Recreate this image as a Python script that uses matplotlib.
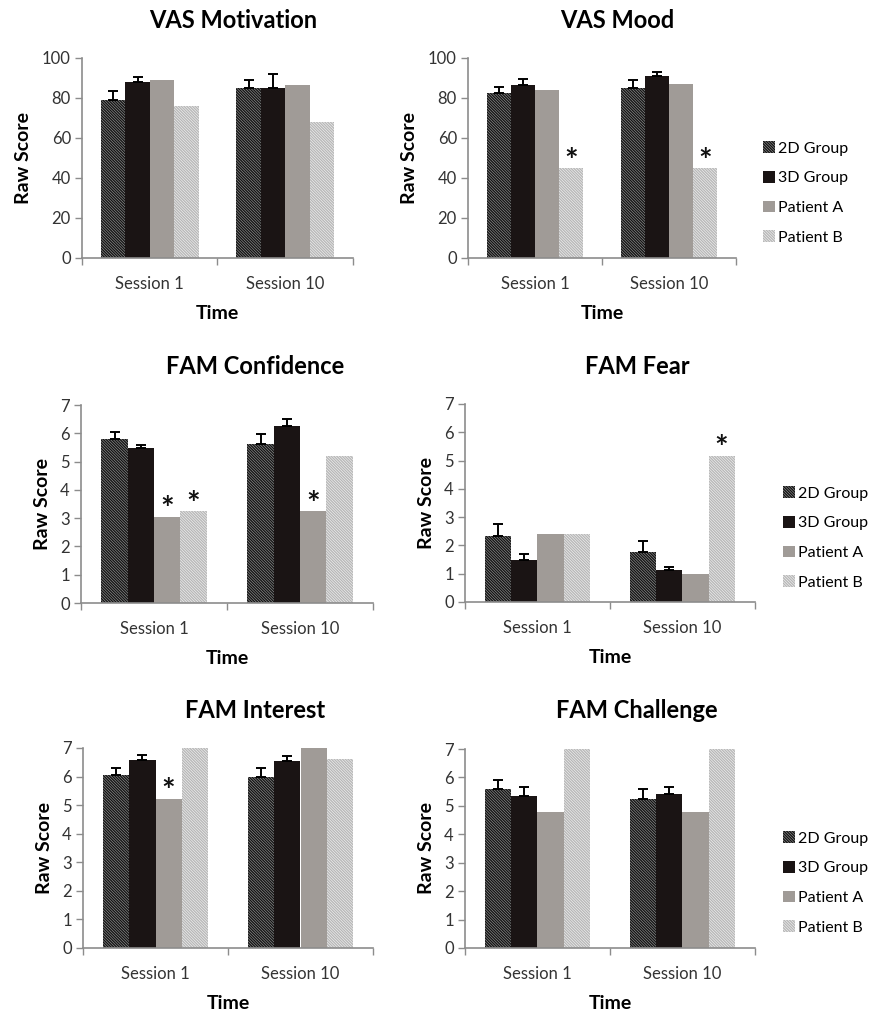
import matplotlib
matplotlib.use("Agg")
import matplotlib.pyplot as plt
import numpy as np

plt.rcParams['font.family'] = ['Lato', 'DejaVu Sans']
plt.rcParams['hatch.linewidth'] = 1.0

# data
sessions = ['Session 1', 'Session 10']
groups = ['2D Group', '3D Group', 'Patient A', 'Patient B']
titles = ['VAS Motivation', 'VAS Mood', 'FAM Confidence', 'FAM Fear', 'FAM Interest', 'FAM Challenge']

# each: [2D, 3D, Patient A, Patient B], values for [Session 1, Session 10]
vas_motivation = [[79.2, 84.8], [88.0, 84.8], [88.8, 86.7], [75.8, 68.0]]
vas_mood = [[82.3, 84.8], [86.3, 91.0], [84.0, 87.0], [44.8, 44.8]]
fam_confidence = [[5.79, 5.61], [5.47, 6.24], [3.04, 3.24], [3.24, 5.20]]
fam_fear = [[2.34, 1.76], [1.49, 1.14], [2.41, 1.00], [2.41, 5.16]]
fam_interest = [[6.04, 5.97], [6.59, 6.56], [5.21, 7.00], [7.00, 6.63]]
fam_challenge = [[5.59, 5.23], [5.35, 5.40], [4.78, 4.78], [7.00, 7.00]]

# upper error bars, [2D, 3D]
vas_motivation_err = [[4.1, 4.0], [2.5, 7.0]]
vas_mood_err = [[3.2, 4.0], [3.3, 2.1]]
fam_confidence_err = [[0.27, 0.35], [0.12, 0.25]]
fam_fear_err = [[0.41, 0.39], [0.21, 0.10]]
fam_interest_err = [[0.26, 0.33], [0.18, 0.15]]
fam_challenge_err = [[0.31, 0.36], [0.32, 0.26]]

# significance stars: (group index, session index)
vas_motivation_stars = []
vas_mood_stars = [(3, 0), (3, 1)]
fam_confidence_stars = [(2, 0), (3, 0), (2, 1)]
fam_fear_stars = [(3, 1)]
fam_interest_stars = [(2, 0)]
fam_challenge_stars = []

y_max = [100, 100, 7, 7, 7, 7]
y_step = [20, 20, 1, 1, 1, 1]

panels = [
    (vas_motivation, vas_motivation_err, vas_motivation_stars),
    (vas_mood, vas_mood_err, vas_mood_stars),
    (fam_confidence, fam_confidence_err, fam_confidence_stars),
    (fam_fear, fam_fear_err, fam_fear_stars),
    (fam_interest, fam_interest_err, fam_interest_stars),
    (fam_challenge, fam_challenge_err, fam_challenge_stars),
]

W, H = 870, 1017
fig = plt.figure(figsize=(W / 100, H / 100), dpi=100)

# axes boxes in pixels: left, right, top(value max), bottom(zero)
boxes = [
    (82, 353, 58, 258), (468, 736, 58, 258),
    (81, 373, 405, 603), (465, 755, 404, 602),
    (83, 373, 748, 948), (465, 755, 749, 948),
]
title_pos = [(233, 20), (617, 20), (255, 367), (637, 367), (255, 710), (637, 710)]
legend_pos = {1: (762, 193), 3: (782, 538), 5: (782, 883)}

styles = [
    dict(color='#a0a0a0', edgecolor='#141414', hatch='\\' * 12, linewidth=0),
    dict(color='#1a1414', linewidth=0),
    dict(color='#a09b97', linewidth=0),
    dict(color='#f8f8f8', edgecolor='#b8b8b8', hatch='\\' * 12, linewidth=0),
]

bw = 0.18
x = np.arange(len(sessions))
axis_col = '#8c8c8c'

for k, (vals, errs, stars) in enumerate(panels):
    l, r, t, b = boxes[k]
    ax = fig.add_axes([l / W, 1 - b / H, (r - l) / W, (b - t) / H])
    bars = []
    for g in range(4):
        pos = x + (g - 1.5) * bw
        bc = ax.bar(pos, vals[g], bw, label=groups[g], **styles[g])
        bars.append(bc)
        if g < 2:
            ax.errorbar(pos, vals[g], yerr=[[0, 0], errs[g]], fmt='none',
                        ecolor='black', elinewidth=1.4, capsize=3.5, capthick=1.4)
    for g, s in stars:
        ax.annotate('*', (x[s] + (g - 1.5) * bw, vals[g][s]), xytext=(0, -6),
                    textcoords='offset points', ha='center', va='bottom',
                    fontsize=23, fontweight='bold', color='#111111')

    ax.set_xlim(-0.5, 1.5)
    ax.set_ylim(0, y_max[k])
    ax.set_yticks(np.arange(0, y_max[k] + 0.01, y_step[k]))
    ax.set_xticks(x)
    ax.set_xticklabels(sessions)
    ax.set_xticks([-0.5, 0.5, 1.5], minor=True)
    ax.tick_params(axis='x', which='major', length=0, pad=13, labelsize=12, labelcolor='#333333')
    ax.tick_params(axis='x', which='minor', length=5, color=axis_col, width=1)
    ax.tick_params(axis='y', length=5, color=axis_col, width=1, pad=3,
                   labelsize=12, labelcolor='#333333')
    for sp in ['top', 'right']:
        ax.spines[sp].set_visible(False)
    for sp in ['left', 'bottom']:
        ax.spines[sp].set_color(axis_col)
        ax.spines[sp].set_linewidth(1.2)
    ax.set_ylabel('Raw Score', fontsize=14, fontweight='bold', labelpad=7)
    ax.set_xlabel('Time', fontsize=14, fontweight='bold', labelpad=9)

    tx, ty = title_pos[k]
    fig.text(tx / W, 1 - ty / H, titles[k], ha='center', va='center',
             fontsize=17, fontweight='bold')

    if k in legend_pos:
        lx, ly = legend_pos[k]
        fig.legend(handles=bars, labels=groups, loc='center left',
                   bbox_to_anchor=(lx / W - 0.006, 1 - ly / H), frameon=False,
                   fontsize=11.5, handlelength=0.75, handleheight=0.75,
                   handletextpad=0.2, labelspacing=0.95, borderaxespad=0)

fig.savefig('out.png', dpi=100)
